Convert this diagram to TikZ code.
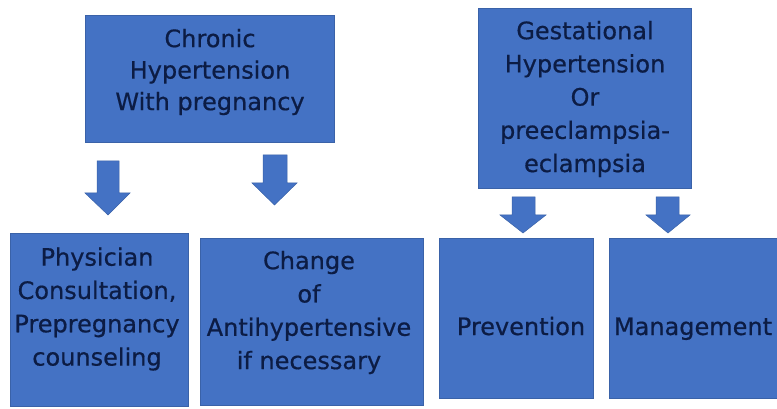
\documentclass[tikz,border=0pt]{standalone}
\usepackage{fontspec}
\setmainfont[FakeBold=0.6]{DejaVu Sans}
\definecolor{boxblue}{HTML}{4472C4}
\definecolor{boxedge}{HTML}{3A62A8}
\definecolor{txtnavy}{HTML}{0C1C44}
\begin{document}
\begin{tikzpicture}[x=1pt,y=-1pt,
  box/.style={draw=boxedge,line width=0.8pt,fill=boxblue,inner sep=0pt},
  toptxt/.style={text=txtnavy,align=center,inner sep=0pt,font=\fontsize{24}{31.5}\selectfont},
  bottxt/.style={text=txtnavy,align=center,inner sep=0pt,font=\fontsize{24}{33.3}\selectfont},
  blockarrow/.style={fill=boxblue,draw=boxedge,line width=0.5pt,line join=miter}]
\useasboundingbox (0,0) rectangle (777,409);
% boxes
\path[box] (85,15) rectangle (334,142) node[pos=0.5] (chronic) {};
\path[box] (478,8) rectangle (691,188) node[pos=0.5] (gest) {};
\path[box] (10,233) rectangle (188,406) node[pos=0.5] (phys) {};
\path[box] (200,238) rectangle (423,405) node[pos=0.5] (change) {};
\path[box] (439,238) rectangle (593,398) node[pos=0.5] (prev) {};
\path[box] (609,238) rectangle (777,398) node[pos=0.5] (manage) {};
% texts
\node[toptxt] (tchronic) at (210,72) {Chronic\\Hypertension\\With pregnancy};
\node[toptxt,font=\fontsize{24}{33.2}\selectfont] (tgest) at (585,99) {Gestational\\Hypertension\\Or\\preeclampsia-\\eclampsia};
\node[bottxt] (tphys) at (97,309) {Physician\\Consultation,\\Prepregnancy\\counseling};
\node[bottxt] (tchange) at (309,312.5) {Change\\of\\Antihypertensive\\if necessary};
\node[bottxt,anchor=base] (tprev) at (521,335) {Prevention};
\node[bottxt,anchor=base] (tman) at (693,335) {Management};
% block arrows
\draw[blockarrow] (97,161) -- (119,161) -- (119,193) -- (130,193) -- (108,215) -- (85,193) -- (97,193) -- cycle;
\draw[blockarrow] (263,155) -- (287,155) -- (287,183) -- (297,183) -- (274.5,205) -- (252,183) -- (263,183) -- cycle;
\draw[blockarrow] (512,197) -- (535,197) -- (535,215) -- (546,215) -- (523,233) -- (500,215) -- (512,215) -- cycle;
\draw[blockarrow] (656,197) -- (679,197) -- (679,215) -- (690,215) -- (668,233) -- (646,215) -- (656,215) -- cycle;
\end{tikzpicture}
\end{document}
